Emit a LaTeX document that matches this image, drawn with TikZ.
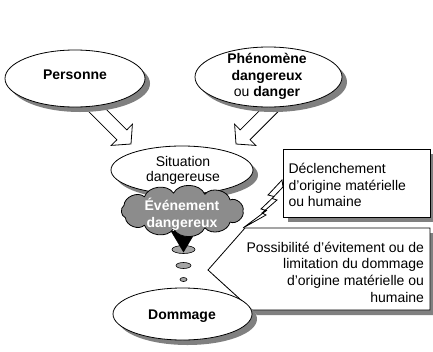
\documentclass[tikz,border=0pt]{standalone}
\usepackage{fontspec}
\setmainfont{Liberation Sans}
\usetikzlibrary{shapes.geometric,shadows}
\definecolor{shadowgray}{RGB}{128,128,128}
\definecolor{cloudgray}{RGB}{140,140,140}
\definecolor{dotgray}{RGB}{165,165,165}
\begin{document}
\begin{tikzpicture}[x=1pt,y=-1pt,
  every node/.style={inner sep=0pt, outer sep=0pt},
  txt/.style={font=\fontsize{14}{16.7}\selectfont, align=center},
  outline/.style={draw=black, line width=0.8pt},
  shadowed/.style={drop shadow={shadow xshift=5pt, shadow yshift=-5pt, opacity=1, fill=shadowgray}},
  bubble/.style={ellipse, outline, fill=white, shadowed},
  blockarrow/.style={outline, fill=white, line join=miter},
  dot/.style={ellipse, draw=black, line width=0.6pt, fill=dotgray},
]
\useasboundingbox (0,0) rectangle (433,351);

% block arrows (drawn first, tails hidden under the ellipses)
\draw[blockarrow] (94.95,98.05) -- (126.8,129.9) -- (132.4,124.2) -- (131,144)
  -- (111.2,145.4) -- (116.9,139.8) -- (85.05,107.95) -- cycle;
\draw[blockarrow] (272.05,98.05) -- (240.2,129.9) -- (234.6,124.2) -- (236,144)
  -- (255.8,145.4) -- (250.1,139.7) -- (281.9,107.9) -- cycle;

% top ellipses
\node[bubble, minimum width=140pt, minimum height=57pt] (pers) at (75,78.5) {};
\node[txt] (perst) at (75,75) {\bfseries Personne};
\node[bubble, minimum width=147pt, minimum height=60pt] (phen) at (268.5,77) {};
\node[txt] (phent) at (267,76.5) {\bfseries Phénomène\\\bfseries dangereux\\ou \bfseries danger};

% situation
\node[bubble, minimum width=142pt, minimum height=48pt] (sit) at (182,170) {};
\node[txt, font=\fontsize{14}{15}\selectfont] (sitt) at (183,170) {Situation\\dangereuse};

% dots and triangle
\node[dot, minimum width=23pt, minimum height=8pt] (d1) at (183.5,249.5) {};
\draw[fill=black] (171,231) -- (196,231) -- (183.5,252) -- cycle;
% cloud
\draw[outline, fill=cloudgray, line join=round]
  ({182+61*cos(0)},{211+18*sin(0)})
  \foreach \a in {38,68,98,128,158,198,232,262,292,322,360} {
    to[bend left=65] ({182+61*cos(\a)},{211+18*sin(\a)})
  } -- cycle;
\node[txt, text=white] (evtt) at (182,214.5) {\bfseries Événement\\\bfseries dangereux};
\node[dot, minimum width=15pt, minimum height=6pt] (d2) at (183.5,265.5) {};
\node[dot, minimum width=7pt, minimum height=4pt] (d3) at (183.5,279.5) {};

% declenchement box
\node[rectangle, outline, fill=white, shadowed, minimum width=147pt, minimum height=68pt] (decl) at (356.5,183) {};
\node[txt, align=left, anchor=west] (declt) at (288.5,185) {Déclenchement\\d’origine matérielle\\ou humaine};
\draw[outline, fill=white, line join=miter] (282,180) -- (268,195) -- (274,196.5) -- (261,209) -- (266.5,210.5)
  -- (243,228) -- (266,215) -- (262,213) -- (277,200) -- (272,198.5) -- (283,187) -- cycle;

% callout
\coordinate (ctl) at (245,228);
\coordinate (ctr) at (430,228);
\coordinate (cbr) at (430,310);
\coordinate (cbl) at (252,310);
\coordinate (ctip) at (208,270);
\draw[outline, fill=white, shadowed, line join=miter] (ctl) -- (ctr) -- (cbr) -- (cbl) -- (ctip) -- cycle;
\node[txt, align=right, anchor=east] (callt) at (424,272) {Possibilité d’évitement ou de\\limitation du dommage\\d’origine matérielle ou\\humaine};

% dommage
\node[bubble, minimum width=139pt, minimum height=52pt] (dom) at (182.5,314) {};
\node[txt] (domt) at (182,316.5) {\bfseries Dommage};
\end{tikzpicture}
\end{document}
